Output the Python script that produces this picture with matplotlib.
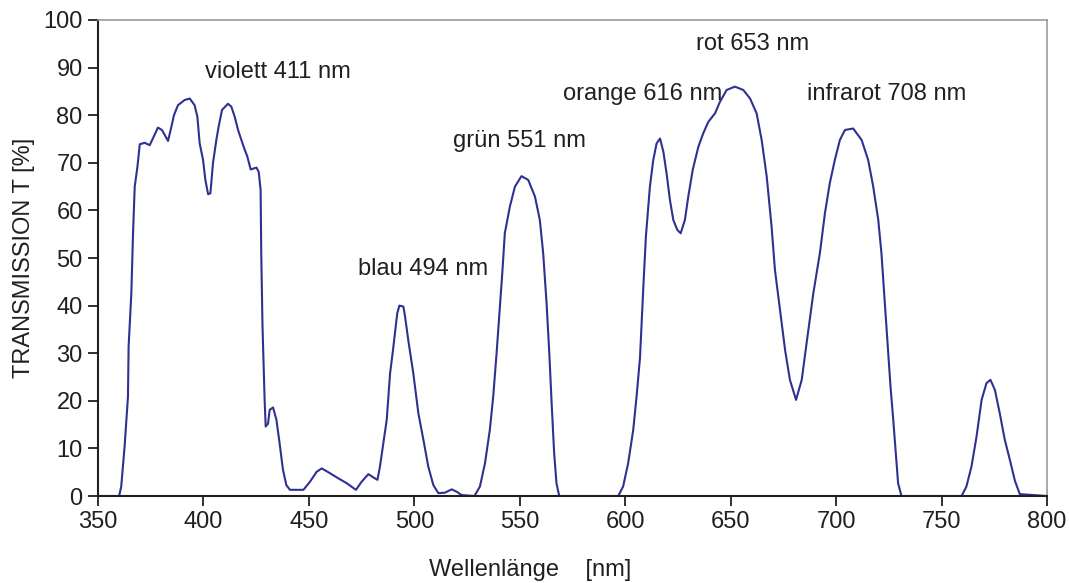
import numpy as np
import matplotlib.pyplot as plt

plt.rcParams['font.family'] = ['Liberation Sans', 'DejaVu Sans']

# Wellenlänge [nm] und Transmission [%]
wl = [350, 360, 361, 362.6, 364.2, 364.5, 365.8, 366.6, 367.4, 368.7, 369.8, 372.1, 374.5,
      376, 378.4, 380.3, 383.2, 384.8, 386, 387.9, 391.1, 393.5, 395.8, 397.1, 398.2,
      399.8, 400.9, 402.2, 403.3, 404.5, 406.1, 407.2, 408.8, 411.6, 413.2, 414.8, 416.4,
      418.8, 420.8, 422.4, 425.1, 426.2, 427.1, 427.4, 428, 429, 429.5, 430.6, 431.4,
      433, 434.6, 436.1, 437.7, 439.3, 441, 447.4, 450.5, 453.7, 456.1, 459.2, 464,
      467.9, 472.3, 475, 478.2, 480.6, 482.5, 483.7, 485.3, 486.9, 487.7, 488.5, 489.7,
      490.8, 491.9, 492.9, 494.8, 495.6, 497.1, 499.5, 501.9, 504.3, 506.6, 509, 511.4,
      514.5, 517.7, 520.1, 522.4, 528.5, 531.1, 533.5, 535.8, 537.4, 539, 540.6, 541.7,
      542.9, 545.3, 547.7, 550.8, 554, 557.2, 559.5, 561.1, 562.7, 564, 565.1, 566.3,
      567.4, 568.7, 596.7, 599, 601.4, 603.8, 605.4, 607, 608.6, 609.8, 611.7, 613.3,
      614.9, 616.5, 618.1, 619.6, 621.2, 622.8, 624.7, 626.3, 628.3, 629.9, 632, 634.7,
      637, 639.4, 642.6, 644.9, 648.1, 652, 656, 659.2, 662.3, 664.7, 667.1, 669.4, 671,
      673.4, 675.8, 678.1, 681, 683.7, 686, 689.2, 692.3, 694.7, 697, 699.4, 701.8,
      704.2, 708.1, 712.1, 715.2, 717.6, 720, 721.5, 723.1, 724.7, 725.8, 727.1, 728.3,
      729.4, 731, 759.5, 761.8, 764.2, 766.6, 769, 771.3, 773.2, 775.3, 777.6, 780,
      782.4, 784.8, 787.1, 800]
trans = [0, 0, 2.0, 10.4, 20.9, 31.4, 42.6, 55.2, 65.0, 69.2, 73.9, 74.2, 73.7,
         75.1, 77.4, 76.9, 74.6, 77.6, 80.0, 82.1, 83.2, 83.5, 82.1, 79.7, 74.1,
         70.6, 66.4, 63.4, 63.6, 69.9, 74.8, 77.6, 81.1, 82.4, 81.8, 79.7, 76.9,
         73.7, 71.3, 68.6, 69.0, 68.1, 64.3, 51.0, 35.6, 20.2, 14.6, 15.2, 18.1,
         18.6, 16.0, 11.1, 5.5, 2.3, 1.3, 1.3, 3.0, 5.1, 5.8, 5.0, 3.7,
         2.7, 1.3, 3.0, 4.6, 3.9, 3.4, 6.2, 11.1, 16.0, 20.9, 25.8, 30.0,
         34.2, 38.4, 40.0, 39.8, 37.7, 32.8, 25.8, 17.4, 11.8, 6.2, 2.3, 0.6,
         0.7, 1.4, 0.9, 0.2, 0, 2.0, 6.9, 13.9, 20.9, 30.0, 39.8, 46.8,
         55.2, 60.8, 65.0, 67.2, 66.4, 62.9, 58.0, 51.0, 40.5, 30.0, 19.5, 9.0,
         2.7, 0, 0, 2.0, 6.9, 13.9, 21.0, 29.0, 44.0, 54.5, 65.0, 70.6,
         74.1, 75.1, 72.3, 67.8, 62.2, 58.0, 55.9, 55.2, 58.0, 62.9, 68.5, 73.4,
         76.2, 78.6, 80.4, 82.8, 85.3, 86.0, 85.3, 83.5, 80.4, 74.8, 67.1, 56.6, 47.5,
         39.1, 30.7, 24.4, 20.2, 24.4, 32.1, 42.6, 51.0, 59.4, 65.7, 70.6, 74.8,
         76.9, 77.2, 74.8, 70.6, 65.0, 58.0, 51.0, 40.5, 30.0, 23.0, 16.0, 9.0,
         2.7, 0, 0, 2.0, 6.2, 12.5, 20.2, 23.7, 24.4, 22.3, 17.4, 11.8,
         7.6, 3.2, 0.4, 0]

labels = ['violett 411 nm', 'blau 494 nm', 'grün 551 nm',
          'orange 616 nm', 'rot 653 nm', 'infrarot 708 nm']
label_x = [400.7, 473.3, 518.3, 570.5, 633.5, 686.2]
label_y = [89.1, 47.7, 74.6, 84.5, 95.0, 84.5]

fs = 17
ink = '#231f20'

fig = plt.figure(figsize=(10.69, 5.83), dpi=100)
ax = fig.add_axes([0.0917, 0.1492, 0.8877, 0.8165])

ax.plot(wl, trans, color='#2e3192', lw=1.5)

for txt, x, y in zip(labels, label_x, label_y):
    ax.text(x, y, txt, ha='left', va='center', fontsize=fs, color=ink)

ax.set_xlim(350, 800)
ax.set_ylim(0, 100)
ax.set_xticks(np.arange(350, 801, 50))
ax.set_yticks(np.arange(0, 101, 10))
ax.tick_params(direction='out', length=7, width=1.3, labelsize=fs,
               colors=ink, pad=4)
for s in ['left', 'bottom']:
    ax.spines[s].set_color(ink)
    ax.spines[s].set_linewidth(1.5)
for s in ['top', 'right']:
    ax.spines[s].set_color('#999999')
    ax.spines[s].set_linewidth(1.2)

ax.set_ylabel('TRANSMISSION T [%]', fontsize=fs, color=ink, labelpad=6)
fig.text(530 / 1069, 1 - 570 / 583, 'Wellenlänge    [nm]', ha='center', va='center',
         fontsize=fs, color=ink)

fig.savefig('out.png', dpi=100)
